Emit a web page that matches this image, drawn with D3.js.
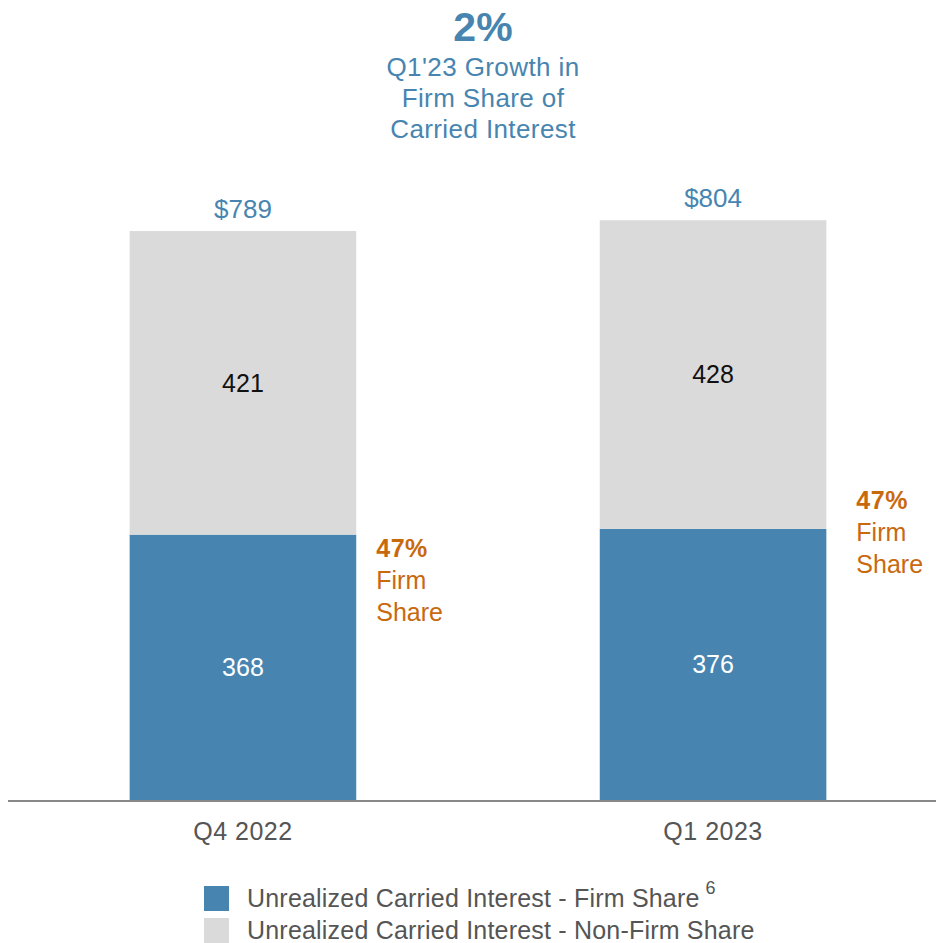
<!DOCTYPE html>
<html lang="en">

<head>
    <meta charset="UTF-8">
    <title>Unrealized Carried Interest</title>
    <style>
        html, body {
            margin: 0;
            padding: 0;
            background: white;
        }

        #svg {
            display: block;
            font-family: "Liberation Sans", Arial, Helvetica, sans-serif;
        }
    </style>
    <script src="https://d3js.org/d3.v7.min.js"></script>
</head>

<body>
    <svg id="svg"></svg>
    <script>
        const width = 936;
        const height = 943;

        // data
        const categories = ['Q4 2022', 'Q1 2023'];
        const firmShare = [368, 376];
        const nonFirmShare = [421, 428];
        const totals = ['$789', '$804'];
        const firmPct = ['47%', '47%'];
        const titleBig = '2%';
        const titleLines = ["Q1'23 Growth in", 'Firm Share of', 'Carried Interest'];
        const legendLabels = ['Unrealized Carried Interest - Firm Share', 'Unrealized Carried Interest - Non-Firm Share'];

        const blue = '#4785b0';
        const grey = '#dadada';
        const orange = '#c8690e';
        const textGrey = '#555555';

        const svg = d3.select('#svg')
            .attr('width', width)
            .attr('height', height);

        const x = d3.scaleBand()
            .domain(categories)
            .range([14, 942])
            .paddingInner(0.518)
            .paddingOuter(0.246);

        const y = d3.scaleLinear()
            .domain([0, 900])
            .range([800, 151]);

        const rows = categories.map((c, i) => ({
            cat: c,
            firm: firmShare[i],
            nonFirm: nonFirmShare[i],
            total: totals[i],
            pct: firmPct[i]
        }));

        // title
        svg.append('text')
            .attr('x', 483)
            .attr('y', 41)
            .attr('text-anchor', 'middle')
            .attr('fill', blue)
            .attr('font-size', 41)
            .attr('font-weight', 'bold')
            .text(titleBig);
        svg.append('g')
            .selectAll('text')
            .data(titleLines)
            .enter()
            .append('text')
            .attr('x', 483)
            .attr('y', (d, i) => 76 + i * 31)
            .attr('text-anchor', 'middle')
            .attr('fill', blue)
            .attr('font-size', 26)
            .attr('letter-spacing', 0.4)
            .text(d => d);

        // bars
        const bars = svg.selectAll('.bar')
            .data(rows)
            .enter()
            .append('g')
            .attr('class', 'bar');

        bars.append('rect')
            .attr('x', d => x(d.cat))
            .attr('width', x.bandwidth())
            .attr('y', d => y(d.firm))
            .attr('height', d => y(0) - y(d.firm))
            .attr('fill', blue);

        bars.append('rect')
            .attr('x', d => x(d.cat))
            .attr('width', x.bandwidth())
            .attr('y', d => y(d.firm + d.nonFirm))
            .attr('height', d => y(d.firm) - y(d.firm + d.nonFirm))
            .attr('fill', grey);

        // segment labels
        bars.append('text')
            .attr('x', d => x(d.cat) + x.bandwidth() / 2)
            .attr('y', d => (y(0) + y(d.firm)) / 2)
            .attr('dy', '0.35em')
            .attr('text-anchor', 'middle')
            .attr('fill', 'white')
            .attr('font-size', 25)
            .text(d => d.firm);

        bars.append('text')
            .attr('x', d => x(d.cat) + x.bandwidth() / 2)
            .attr('y', d => (y(d.firm) + y(d.firm + d.nonFirm)) / 2)
            .attr('dy', '0.35em')
            .attr('text-anchor', 'middle')
            .attr('fill', '#111111')
            .attr('font-size', 25)
            .text(d => d.nonFirm);

        // totals
        bars.append('text')
            .attr('x', d => x(d.cat) + x.bandwidth() / 2)
            .attr('y', d => y(d.firm + d.nonFirm) - 13)
            .attr('text-anchor', 'middle')
            .attr('fill', blue)
            .attr('font-size', 26)
            .text(d => d.total);

        // firm share notes
        const noteDx = [20, 30];
        const noteDy = [22, -20];
        const notes = bars.append('text')
            .attr('fill', orange)
            .attr('font-size', 25)
            .attr('transform', (d, i) => 'translate(' + (x(d.cat) + x.bandwidth() + noteDx[i]) + ',' + (y(d.firm) + noteDy[i]) + ')');
        notes.append('tspan')
            .attr('x', 0)
            .attr('y', 0)
            .attr('font-weight', 'bold')
            .attr('letter-spacing', 0.5)
            .text(d => d.pct);
        notes.append('tspan')
            .attr('x', 0)
            .attr('y', 32)
            .text('Firm');
        notes.append('tspan')
            .attr('x', 0)
            .attr('y', 64)
            .text('Share');

        // axis
        const xAxis = svg.append('g')
            .attr('transform', 'translate(0,' + y(0) + ')')
            .call(d3.axisBottom(x).tickSize(0).tickPadding(0));
        xAxis.select('.domain').remove();
        xAxis.selectAll('text')
            .attr('font-family', 'inherit')
            .attr('font-size', 25)
            .attr('letter-spacing', 0.5)
            .attr('fill', textGrey)
            .attr('dy', 0)
            .attr('y', 40);
        svg.append('line')
            .attr('x1', 8)
            .attr('x2', width)
            .attr('y1', y(0) + 1)
            .attr('y2', y(0) + 1)
            .attr('stroke', '#888888')
            .attr('stroke-width', 2);

        // legend
        const legend = svg.selectAll('.legend')
            .data(legendLabels)
            .enter()
            .append('g')
            .attr('class', 'legend')
            .attr('transform', (d, i) => 'translate(204,' + (886 + i * 32) + ')');
        legend.append('rect')
            .attr('width', 25)
            .attr('height', 25)
            .attr('fill', (d, i) => i === 0 ? blue : grey);
        const legendText = legend.append('text')
            .attr('x', 43)
            .attr('y', 21)
            .attr('font-size', 25)
            .attr('letter-spacing', 0.2)
            .attr('fill', textGrey)
            .text(d => d);
        legendText.filter((d, i) => i === 0)
            .append('tspan')
            .attr('dx', 6)
            .attr('dy', -13)
            .attr('font-size', 18)
            .text('6');
    </script>
</body>

</html>
